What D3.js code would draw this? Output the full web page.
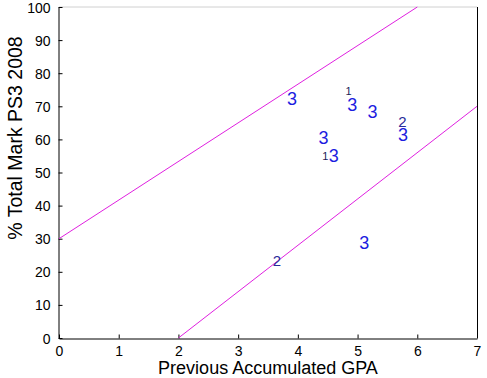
<!DOCTYPE html>
<html>
<head>
<meta charset="UTF-8">
<title>GPA vs PS3</title>
<script src="https://d3js.org/d3.v7.min.js"></script>
<style>
  body { margin: 0; background: #fff; }
  svg text { font-family: "Liberation Sans", Arial, sans-serif; }
</style>
</head>
<body>
<svg></svg>
<script>
  // data
  const gpa   = [3.90, 4.85, 4.91, 5.25, 5.75, 5.76, 4.43, 4.46, 4.60, 3.65, 5.11]
  const mark  = [72.1, 74.7, 70.4, 68.4, 65.3, 61.3, 60.3, 55.0, 55.0, 23.4, 28.6]
  const label = ['3', '1', '3', '3', '2', '3', '3', '1', '3', '2', '3']

  // the two boundary lines
  const upperLine = [[0, 30], [6, 100]]
  const lowerLine = [[2, 0], [7, 70]]

  const xTicks = [0, 1, 2, 3, 4, 5, 6, 7]
  const yTicks = [0, 10, 20, 30, 40, 50, 60, 70, 80, 90, 100]

  const width = 487, height = 378
  const margin = {left: 59, right: 10, top: 7, bottom: 40}

  const svg = d3.select('svg').attr('width', width).attr('height', height)

  const x = d3.scaleLinear().domain([0, 7]).range([margin.left, width - margin.right])
  const y = d3.scaleLinear().domain([0, 100]).range([height - margin.bottom, margin.top])

  // label size and colour go with the label value
  const fontSize = d3.scaleOrdinal().domain(['1', '2', '3']).range([11, 15, 18])
  const fontColor = d3.scaleOrdinal().domain(['1', '2', '3']).range(['#1c1c58', '#2a2a9a', '#1c1ce0'])

  // frame
  svg.append('line')
    .attr('x1', x(0)).attr('x2', x(7)).attr('y1', y(100)).attr('y2', y(100))
    .attr('stroke', '#d0d0d0')
  svg.append('line')
    .attr('x1', x(7) + 0.5).attr('x2', x(7) + 0.5).attr('y1', y(100)).attr('y2', y(0))
    .attr('stroke', '#000')

  const xAxis = svg.append('g')
    .attr('transform', `translate(0,${y(0) + 0.5})`)
    .call(d3.axisBottom(x).tickValues(xTicks).tickFormat(d3.format('d'))
      .tickSizeInner(-4).tickSizeOuter(0).tickPadding(8))
  const yAxis = svg.append('g')
    .attr('transform', `translate(${x(0) - 0.5},0)`)
    .call(d3.axisLeft(y).tickValues(yTicks).tickFormat(d3.format('d'))
      .tickSizeInner(-4).tickSizeOuter(0).tickPadding(8))

  svg.selectAll('.domain').attr('stroke', '#000')
  svg.selectAll('.tick line').attr('stroke', '#000')
  svg.selectAll('.tick text').attr('font-size', 14).attr('fill', '#000')
    .style('font-family', '"Liberation Sans", Arial, sans-serif')
  yAxis.selectAll('.tick text').attr('dy', '0.36em')

  // boundary lines
  const lineGen = d3.line().x(d => x(d[0])).y(d => y(d[1]))
  svg.append('g')
    .selectAll('path')
    .data([upperLine, lowerLine])
    .join('path')
    .attr('d', lineGen)
    .attr('fill', 'none')
    .attr('stroke', '#e020e0')
    .attr('stroke-width', 1)

  // points drawn as their label text
  svg.append('g')
    .selectAll('text')
    .data(label.map((l, i) => ({x: gpa[i], y: mark[i], l})))
    .join('text')
    .attr('x', d => x(d.x))
    .attr('y', d => y(d.y))
    .attr('text-anchor', 'middle')
    .attr('dominant-baseline', 'central')
    .attr('font-size', d => fontSize(d.l))
    .attr('fill', d => fontColor(d.l))
    .text(d => d.l)

  // axis titles
  svg.append('text')
    .attr('x', (x(0) + x(7)) / 2)
    .attr('y', 374)
    .attr('text-anchor', 'middle')
    .attr('font-size', 18)
    .text('Previous Accumulated GPA')

  svg.append('text')
    .attr('transform', 'translate(22,138) rotate(-90)')
    .attr('text-anchor', 'middle')
    .attr('font-size', 19.5)
    .text('% Total Mark PS3 2008')
</script>
</body>
</html>
